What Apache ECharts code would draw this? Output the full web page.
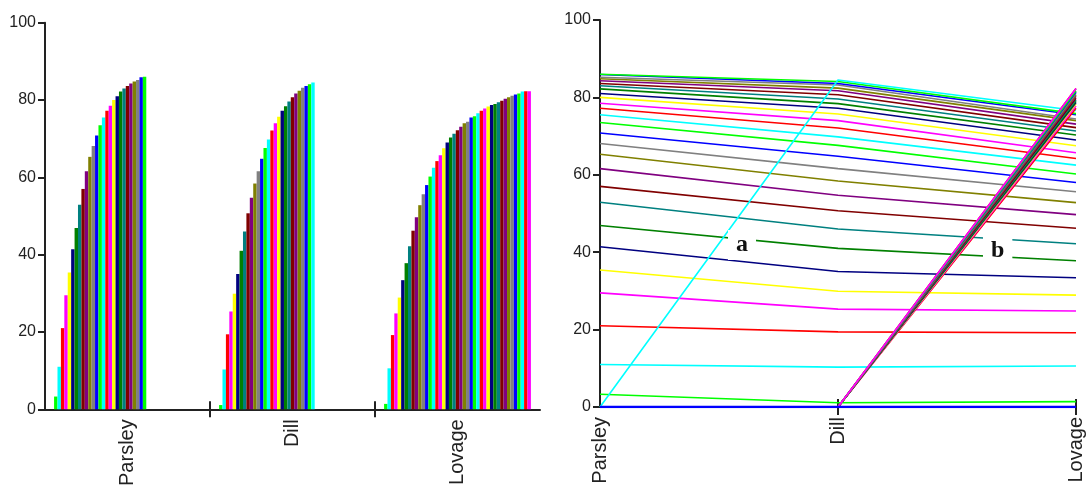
<!DOCTYPE html>
<html>
<head>
<meta charset="utf-8">
<script src="https://cdn.jsdelivr.net/npm/echarts@6/dist/echarts.min.js"></script>
<style>
  html, body { margin: 0; padding: 0; background: #fff; }
  #chart { width: 1091px; height: 493px; }
</style>
</head>
<body>
<div id="chart"></div>
<script>
// ---- data ----
var categories = ['Parsley', 'Dill', 'Lovage'];
var yTicks = [0, 20, 40, 60, 80, 100];

// value of each series (index i) in each category
var parsley = [3.3, 11, 21, 29.5, 35.4, 41.4, 46.9, 52.9, 57, 61.6, 65.3, 68.1, 70.8, 73.5, 75.5, 77.2, 78.5, 80, 81, 82.2, 83, 83.6, 84.3, 84.8, 85.2, 85.9, 86,
               0, 0, 0, 0, 0, 0, 0, 0, 0, 0, 0, 0, 0, 0, 0, 0];
var dill = [1.1, 10.3, 19.4, 25.3, 29.9, 35, 41, 46, 50.7, 54.7, 58.4, 61.6, 64.8, 67.6, 69.8, 72.1, 74, 75.7, 77.2, 78.4, 79.6, 80.7, 81.7, 82.4, 83.2, 83.6, 84.1, 84.5,
            0, 0, 0, 0, 0, 0, 0, 0, 0, 0, 0, 0, 0, 0, 0];
var lovage = [1.4, 10.6, 19.2, 24.8, 28.9, 33.4, 37.8, 42.2, 46.2, 49.7, 52.8, 55.6, 58, 60.2, 62.5, 64.2, 65.7, 67.5, 69, 70.3, 71.3, 72.2, 73.1, 74, 74.4, 75.5, 75.8,
              76.6, 77.2, 77.8, 78.3, 78.7, 79, 79.4, 79.8, 80.3, 80.7, 81.1, 81.4, 81.7, 82.2, 82.3, 82.3];
var baseline = [0, 0, 0];

var palette = ['#00FF00', '#00FFFF', '#FF0000', '#FF00FF', '#FFFF00', '#000080', '#008000',
               '#008080', '#800000', '#800080', '#808000', '#808080', '#0000FF'];

// ---- chart ----
var chart = echarts.init(document.getElementById('chart'));
var axisColor = '#222';
var fontFam = '"Liberation Sans", Arial, sans-serif';

function catAxis(grid, boundaryGap) {
  return {
    type: 'category', gridIndex: grid, data: categories, position: 'bottom',
    boundaryGap: boundaryGap,
    axisLine: { show: true, lineStyle: { color: axisColor, width: 2 } },
    axisTick: { show: false },
    axisLabel: { rotate: 90, margin: 10, fontSize: 20, color: '#222', fontFamily: fontFam },
    splitLine: { show: false }
  };
}
function tickAxis(grid, max, vals, inside) {
  return {
    type: 'value', gridIndex: grid, min: 0, max: max, position: 'bottom',
    axisLine: { show: false },
    axisLabel: { show: false },
    splitLine: { show: false },
    axisTick: { show: true, customValues: vals, inside: inside, length: 8,
                lineStyle: { color: axisColor, width: 2 } }
  };
}
function valAxis(grid) {
  return {
    type: 'value', gridIndex: grid, min: 0, max: 100, interval: 20,
    axisLine: { show: true, lineStyle: { color: axisColor, width: 2 } },
    axisTick: { show: true, length: 7, lineStyle: { color: axisColor, width: 2 } },
    axisLabel: { margin: 9, fontSize: 16, color: '#222', fontFamily: fontFam },
    splitLine: { show: false }
  };
}

var series = [];
for (var i = 0; i < parsley.length; i++) {
  series.push({
    type: 'bar', name: 'S' + i, xAxisIndex: 0, yAxisIndex: 0,
    data: [parsley[i], dill[i], lovage[i]],
    barGap: '0%', barCategoryGap: '11%',
    itemStyle: { color: palette[i % palette.length] },
    animation: false
  });
}
for (var j = 0; j < parsley.length; j++) {
  series.push({
    type: 'line', name: 'L' + j, xAxisIndex: 3, yAxisIndex: 1,
    data: [parsley[j], dill[j], lovage[j]],
    symbol: 'none',
    lineStyle: { color: palette[j % palette.length], width: 1.6 },
    animation: false
  });
}
series.push({
  type: 'line', name: 'baseline', xAxisIndex: 3, yAxisIndex: 1,
  data: baseline, symbol: 'none',
  lineStyle: { color: '#0000FF', width: 2.5 }, animation: false
});

chart.setOption({
  backgroundColor: '#fff',
  animation: false,
  grid: [
    { left: 45, right: 551, top: 22.7, bottom: 83.7, containLabel: false },
    { left: 600, right: 15, top: 20, bottom: 86, containLabel: false }
  ],
  xAxis: [
    catAxis(0, true),
    tickAxis(0, 3, [1, 2], true),
    tickAxis(0, 3, [1, 2], false),
    catAxis(1, false),
    tickAxis(1, 2, [1, 2], true),
    tickAxis(1, 2, [1, 2], false)
  ],
  yAxis: [valAxis(0), valAxis(1)],
  series: series,
  graphic: [
    { type: 'text', z: 100, left: 728, top: 230,
      style: { text: 'a', font: 'bold 24px "Liberation Serif", "Times New Roman", serif',
               fill: '#111', backgroundColor: '#fff', padding: [3, 8, 3, 8] } },
    { type: 'text', z: 100, left: 983, top: 236,
      style: { text: 'b', font: 'bold 24px "Liberation Serif", "Times New Roman", serif',
               fill: '#111', backgroundColor: '#fff', padding: [3, 8, 3, 8] } }
  ]
});
</script>
</body>
</html>
